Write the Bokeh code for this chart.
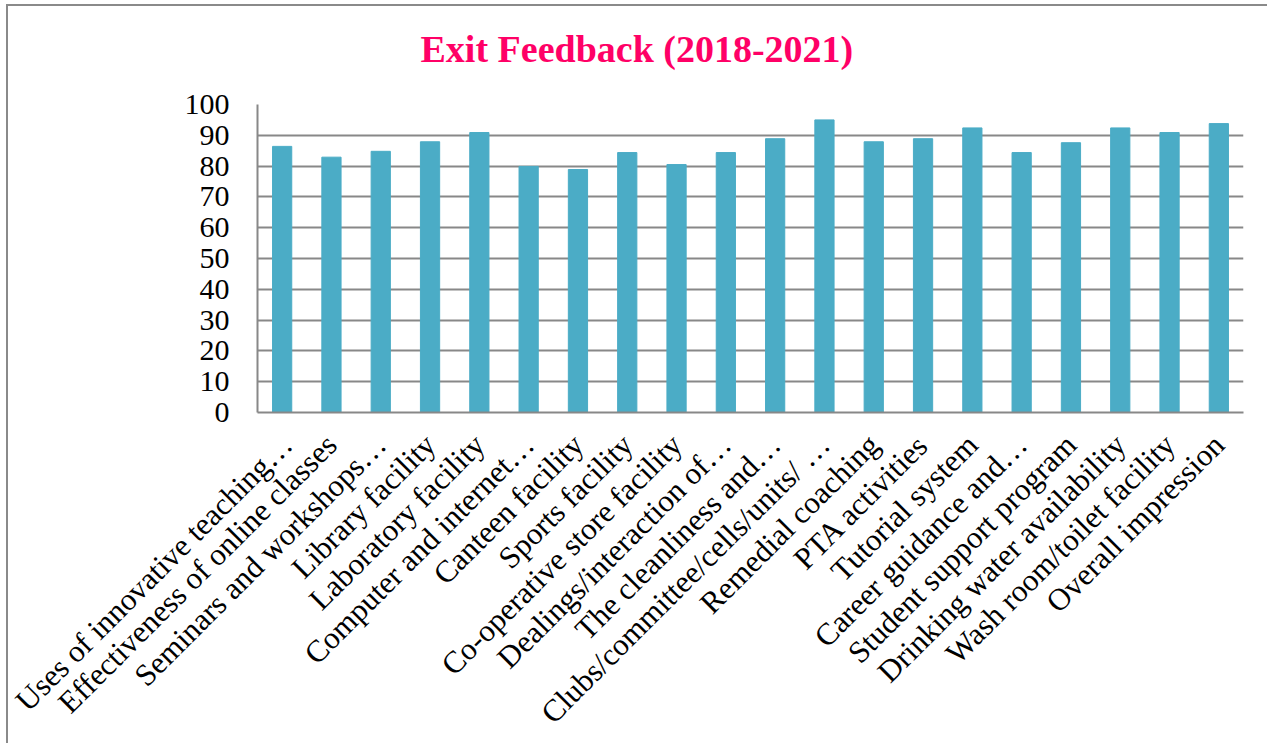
import math
from bokeh.plotting import figure
from bokeh.models import ColumnDataSource, SingleIntervalTicker, Range1d, FactorRange, Title
from bokeh.embed import file_html
from bokeh.resources import INLINE

categories = [
    "Uses of innovative teaching…",
    "Effectiveness of online classes",
    "Seminars and workshops…",
    "Library facility",
    "Laboratory facility",
    "Computer and internet…",
    "Canteen facility",
    "Sports facility",
    "Co-operative store facility",
    "Dealings/interaction of…",
    "The cleanliness and…",
    "Clubs/committee/cells/units/ …",
    "Remedial coaching",
    "PTA activities",
    "Tutorial system",
    "Career guidance and…",
    "Student support program",
    "Drinking water availability",
    "Wash room/toilet facility",
    "Overall impression",
]
values = [86.4, 82.9, 84.8, 87.9, 90.9, 79.9, 78.9, 84.4, 80.5, 84.4,
          88.9, 95.0, 87.9, 88.9, 92.4, 84.4, 87.6, 92.4, 90.9, 93.8]
title_text = "Exit Feedback (2018-2021)"

src = ColumnDataSource(data=dict(cat=categories, val=values))

SERIF = "Liberation Serif"
GRID = "#888888"

p = figure(
    width=1261, height=739,
    x_range=FactorRange(*categories, range_padding=0),
    y_range=Range1d(0, 100),
    output_backend="svg", toolbar_location=None,
    min_border_left=249, min_border_right=26, min_border_top=98, min_border_bottom=332,
)
p.styles = {"margin-left": "6px", "margin-top": "4px",
            "border-left": "2px solid #8a8a8a", "border-top": "2px solid #8a8a8a"}
p.outline_line_color = None

p.vbar(x="cat", top="val", width=0.39, source=src, fill_color="#4BACC6", line_color="#4BACC6")

# spacer between the frame and the title, then the title itself
p.add_layout(Title(text=" ", text_font_size="10px", standoff=22), "above")
p.add_layout(Title(text=title_text, text_font=SERIF, text_font_size="38px",
                   text_font_style="bold", text_color="#FF0066",
                   align="left", offset=163, standoff=0), "above")

p.yaxis.ticker = SingleIntervalTicker(interval=10)
p.yaxis.major_label_text_font = SERIF
p.yaxis.major_label_text_font_size = "30px"
p.yaxis.major_label_text_color = "black"
p.yaxis.major_label_standoff = 22
p.yaxis.major_tick_line_color = None
p.yaxis.minor_tick_line_color = None
p.yaxis.axis_line_color = GRID
p.yaxis.axis_line_width = 2

p.xaxis.major_label_orientation = math.pi / 4
p.xaxis.major_label_text_font = SERIF
p.xaxis.major_label_text_font_size = "31px"
p.xaxis.major_label_text_color = "black"
p.xaxis.major_label_standoff = 27
p.xaxis.major_tick_line_color = None
p.xaxis.major_tick_out = 0
p.xaxis.axis_line_color = GRID
p.xaxis.axis_line_width = 2

p.xgrid.grid_line_color = None
p.ygrid.grid_line_color = GRID
p.ygrid.grid_line_width = 2

open("out.html", "w").write(file_html(p, INLINE))
